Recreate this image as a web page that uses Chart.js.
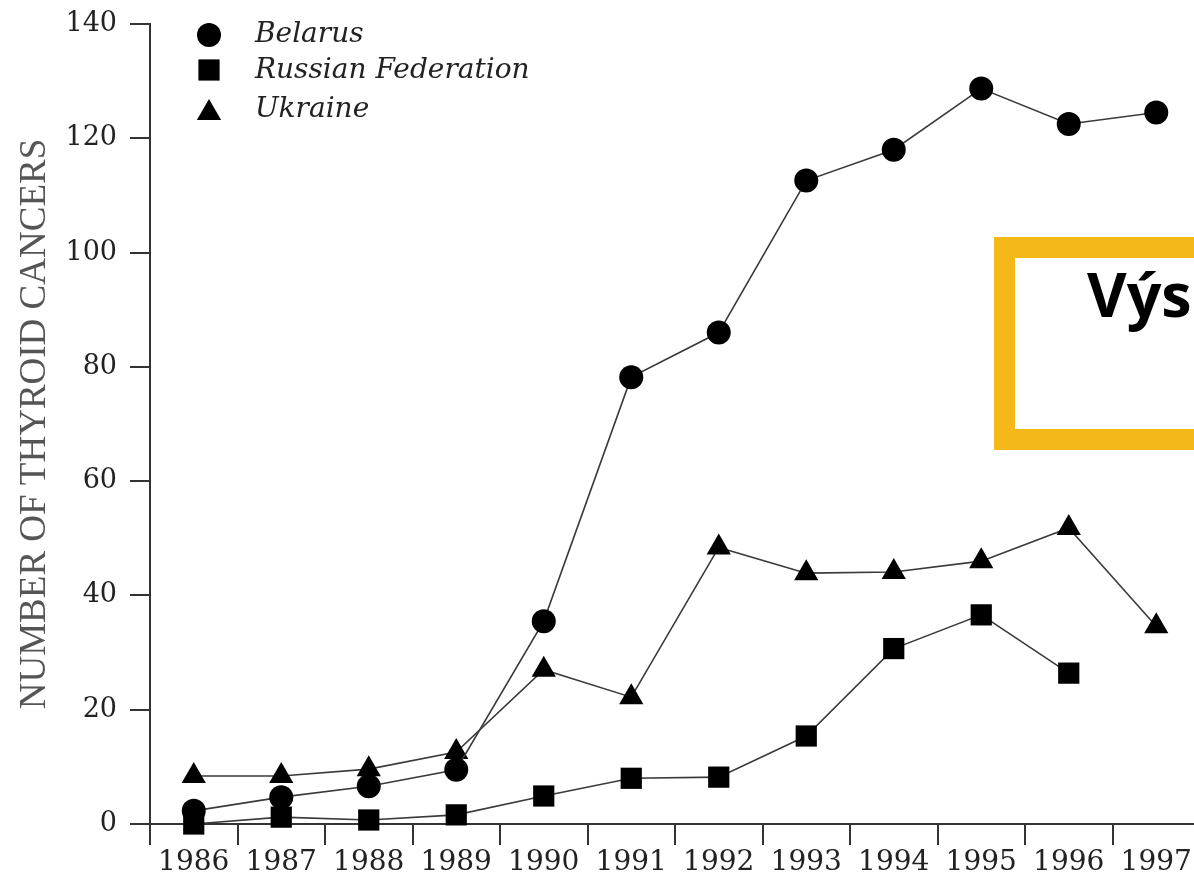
<!DOCTYPE html>
<html>
<head>
<meta charset="utf-8">
<script src="https://cdn.jsdelivr.net/npm/chart.js@4.4.1/dist/chart.umd.min.js"></script>
<style>
  html, body { margin: 0; padding: 0; background: #fff; overflow: hidden; width: 1194px; height: 874px; }
  #wrap { position: relative; width: 1220px; height: 874px; }
  #callout {
    position: absolute; left: 994px; top: 237px; width: 300px; height: 171px;
    border: 21px solid #F4B819; background: #fff; z-index: 2;
  }
  #callout span {
    position: absolute; left: 72px; top: 5px;
    font: bold 61px "Open Sans", sans-serif; line-height: 61px; color: #000; white-space: nowrap;
  }
</style>
</head>
<body>
<div id="wrap">
  <canvas id="chart"></canvas>
  <div id="callout"><span>Výs</span></div>
</div>
<script>
// Thyroid cancers per year, by country
const years = ['1986', '1987', '1988', '1989', '1990', '1991', '1992', '1993', '1994', '1995', '1996', '1997'];
const belarus = [2.3, 4.7, 6.6, 9.5, 35.5, 78.2, 86, 112.6, 118, 128.7, 122.5, 124.5];
const russianFederation = [0, 1.2, 0.7, 1.6, 4.9, 8, 8.2, 15.4, 30.7, 36.6, 26.4, null];
const ukraine = [8.4, 8.4, 9.6, 12.6, 27, 22.2, 48.4, 43.9, 44.1, 46, 51.8, 34.6];
const yAxisTitle = 'NUMBER OF THYROID CANCERS';

const ink = '#000';
const lineInk = '#3a3a3a';
const axisInk = '#333';

// Key in the upper left: marker + italic name per series
const seriesKey = {
  id: 'seriesKey',
  afterDraw(chart, args, opts) {
    const ctx = chart.ctx;
    ctx.save();
    chart.data.datasets.forEach((ds, i) => {
      ctx.fillStyle = ink;
      Chart.helpers.drawPoint(ctx, {
        pointStyle: ds.pointStyle, radius: ds.pointRadius, rotation: 0, borderWidth: 0
      }, opts.markerX, opts.markerY[i]);
      ctx.fillStyle = '#222';
      ctx.font = 'italic 28px "DejaVu Serif"';
      ctx.textAlign = 'left';
      ctx.textBaseline = 'middle';
      ctx.fillText(ds.label, opts.textX, opts.textY[i]);
    });
    ctx.restore();
  }
};

function series(label, data, style, radius) {
  return {
    label, data,
    pointStyle: style,
    pointRadius: radius,
    pointHoverRadius: radius,
    pointBackgroundColor: ink,
    pointBorderWidth: 0,
    borderColor: lineInk,
    borderWidth: 1.6,
    tension: 0,
    spanGaps: false,
    clip: false
  };
}

new Chart(document.getElementById('chart'), {
  type: 'line',
  data: {
    labels: years,
    datasets: [
      series('Belarus', belarus, 'circle', 12),
      series('Russian Federation', russianFederation, 'rect', 15),
      series('Ukraine', ukraine, 'triangle', 14)
    ]
  },
  options: {
    responsive: true,
    maintainAspectRatio: false,
    animation: false,
    events: [],
    layout: { padding: { top: 24, right: 20, left: 0, bottom: 0 } },
    plugins: {
      legend: { display: false },
      tooltip: { enabled: false },
      seriesKey: { markerX: 209, markerY: [35, 70, 113], textX: 255, textY: [35, 71, 110] }
    },
    scales: {
      x: {
        type: 'category',
        offset: true,
        grid: { offset: true, drawOnChartArea: false, drawTicks: true, tickLength: 21, color: axisInk, lineWidth: 2 },
        border: { display: true, color: axisInk, width: 2 },
        ticks: {
          font: { family: 'DejaVu Serif', size: 28 }, color: '#222',
          padding: 1, autoSkip: false, maxRotation: 0
        },
        afterFit(s) { s.height = 50; s.paddingLeft = 0; s.paddingRight = 0; }
      },
      y: {
        min: 0, max: 140,
        grid: { drawOnChartArea: false, drawTicks: true, tickLength: 20, color: axisInk, lineWidth: 2 },
        border: { display: true, color: axisInk, width: 2 },
        ticks: {
          stepSize: 20, font: { family: 'DejaVu Serif', size: 27 }, color: '#222', padding: 13
        },
        title: {
          display: true, text: yAxisTitle,
          font: { family: 'Liberation Serif', size: 37 }, color: '#555',
          padding: { top: 13, bottom: 0 }
        },
        afterFit(s) { s.width = 150; s.paddingTop = 0; s.paddingBottom = 0; }
      }
    }
  },
  plugins: [seriesKey]
});
</script>
</body>
</html>
